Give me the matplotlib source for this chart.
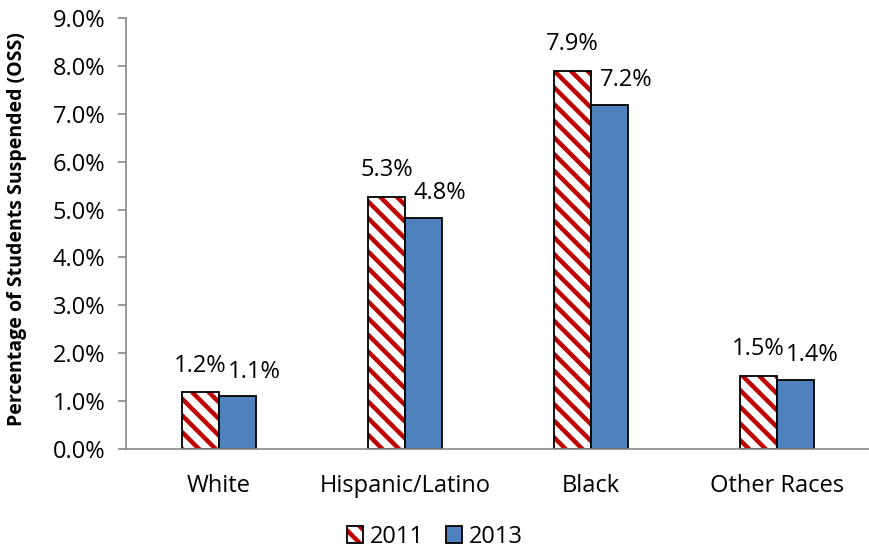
import matplotlib
matplotlib.use("Agg")
import matplotlib.pyplot as plt
import numpy as np

categories = ["White", "Hispanic/Latino", "Black", "Other Races"]
values_2011 = [1.18, 5.27, 7.89, 1.52]
values_2013 = [1.10, 4.83, 7.19, 1.45]
labels_2011 = ["1.2%", "5.3%", "7.9%", "1.5%"]
labels_2013 = ["1.1%", "4.8%", "7.2%", "1.4%"]
series_names = ["2011", "2013"]

plt.rcParams['font.family'] = ['Open Sans', 'DejaVu Sans']
plt.rcParams['hatch.linewidth'] = 3.2

FS = 17
fig = plt.figure(figsize=(8.7, 5.52), dpi=100)
ax = fig.add_axes([126/870, 1-449/552, 1-126/870, (449-18)/552])

x = np.arange(len(categories))
w = 0.2
# hatched fill (red stripes), then black outline on top
b1h = ax.bar(x - w/2, values_2011, w, facecolor='white', edgecolor='#C00000', hatch='\\\\', linewidth=0)
b1o = ax.bar(x - w/2, values_2011, w, facecolor='none', edgecolor='black', linewidth=1.3)
b2 = ax.bar(x + w/2, values_2013, w, facecolor='#4F81BD', edgecolor='black', linewidth=1.3)

for xi, v, l in zip(x - w/2, values_2011, labels_2011):
    ax.annotate(l, (xi, v), xytext=(0, 15), textcoords='offset points', ha='center', va='baseline', fontsize=FS)
for xi, v, l in zip(x + w/2, values_2013, labels_2013):
    ax.annotate(l, (xi, v), xytext=(12, 13.5), textcoords='offset points', ha='center', va='baseline', fontsize=FS)

ax.set_xlim(-0.5, 3.5)
ax.set_ylim(0, 9)
ticks = np.arange(0, 9.01, 1)
ax.set_yticks(ticks)
ax.set_yticklabels([f"{t:.1f}%" for t in ticks], fontsize=FS)
ax.set_xticks(x)
ax.set_xticklabels(categories, fontsize=FS)
ax.tick_params(axis='x', length=0, pad=18)
ax.tick_params(axis='y', length=6, width=1.2, color='#888888', pad=9)
for s in ['top', 'right']:
    ax.spines[s].set_visible(False)
for s in ['left', 'bottom']:
    ax.spines[s].set_color('#888888')
    ax.spines[s].set_linewidth(1.2)
ax.set_ylabel("Percentage of Students Suspended (OSS)", fontsize=14, fontweight='bold')
ax.yaxis.set_label_coords((27 - 126) / (870 - 126), 0.51)

fig.legend(handles=[(b1h, b1o), b2], labels=series_names, loc='center', bbox_to_anchor=(0.5, 1-537/552), ncol=2, frameon=False, fontsize=FS, handlelength=0.7, handleheight=0.7, handletextpad=0.3, columnspacing=0.9)

fig.savefig("out.png", dpi=100)
